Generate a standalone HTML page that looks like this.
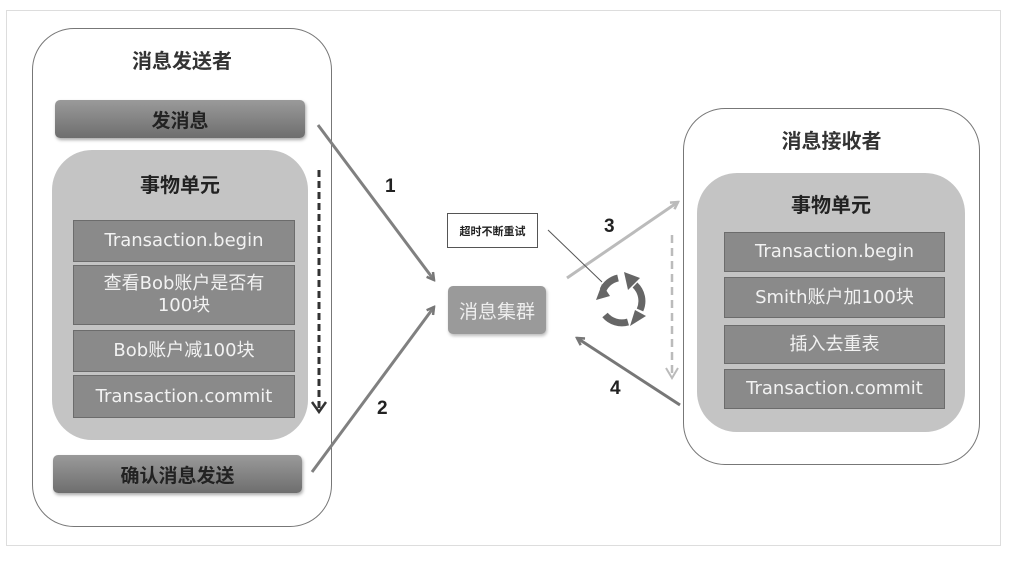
<!DOCTYPE html>
<html><head><meta charset="utf-8"><style>
body{margin:0;background:#fff;font-family:"Liberation Sans","Noto Sans CJK SC",sans-serif;}
.a{position:absolute;box-sizing:border-box;}
.t{display:flex;align-items:center;justify-content:center;text-align:center;}
.row{background:#8a8a8a;border:1.5px solid #6c6c6c;color:#f2f2f2;font-size:18px;line-height:22px;font-family:"DejaVu Sans","Noto Sans CJK SC",sans-serif;}
.btn{background:linear-gradient(#9a9a9a,#6e6e6e);border-radius:5px;color:#222;font-size:19px;font-weight:bold;box-shadow:1px 2px 3px #aaa;}
</style></head><body>
<div class="a" style="left:0;top:0;width:1020px;height:564px;overflow:hidden">
<div class="a" style="left:6px;top:10px;width:995px;height:536px;border:1px solid #ddd"></div>
<!-- left -->
<div class="a" style="left:32px;top:28px;width:300px;height:499px;border:1.5px solid #777;border-radius:42px"></div>
<div class="a t" style="left:32px;top:44px;width:300px;height:30px;font-size:20px;font-weight:bold;color:#333">消息发送者</div>
<div class="a t btn" style="left:55px;top:100px;width:250px;height:38px">发消息</div>
<div class="a" style="left:52px;top:150px;width:256px;height:290px;background:#c4c4c4;border-radius:40px"></div>
<div class="a t" style="left:52px;top:168px;width:256px;height:30px;font-size:20px;font-weight:bold;color:#222">事物单元</div>
<div class="a t row" style="left:73px;top:220px;width:222px;height:42px">Transaction.begin</div>
<div class="a t row" style="left:73px;top:265px;width:222px;height:60px">查看Bob账户是否有<br>100块</div>
<div class="a t row" style="left:73px;top:330px;width:222px;height:42px">Bob账户减100块</div>
<div class="a t row" style="left:73px;top:375px;width:222px;height:43px">Transaction.commit</div>
<div class="a t btn" style="left:53px;top:455px;width:249px;height:38px">确认消息发送</div>
<!-- right -->
<div class="a" style="left:683px;top:108px;width:297px;height:357px;border:1.5px solid #777;border-radius:42px"></div>
<div class="a t" style="left:683px;top:124px;width:297px;height:30px;font-size:20px;font-weight:bold;color:#333">消息接收者</div>
<div class="a" style="left:697px;top:173px;width:268px;height:259px;background:#c4c4c4;border-radius:40px"></div>
<div class="a t" style="left:697px;top:188px;width:268px;height:30px;font-size:20px;font-weight:bold;color:#222">事物单元</div>
<div class="a t row" style="left:724px;top:232px;width:221px;height:40px">Transaction.begin</div>
<div class="a t row" style="left:724px;top:277px;width:221px;height:41px">Smith账户加100块</div>
<div class="a t row" style="left:724px;top:325px;width:221px;height:39px">插入去重表</div>
<div class="a t row" style="left:724px;top:369px;width:221px;height:40px">Transaction.commit</div>
<!-- middle -->
<div class="a t" style="left:448px;top:286px;width:98px;height:48px;background:#9a9a9a;border-radius:5px;color:#eee;font-size:19px;box-shadow:1px 2px 3px #bbb">消息集群</div>
<div class="a t" style="left:447px;top:213px;width:91px;height:35px;border:1px solid #555;font-size:11px;font-weight:bold;color:#222">超时不断重试</div>
<svg class="a" style="left:0;top:0" width="1020" height="564">
<defs>
<marker id="m" markerWidth="10" markerHeight="10" refX="8" refY="5" orient="auto" markerUnits="userSpaceOnUse"><path d="M1,1 L8,5 L1,9" fill="none" stroke="#777" stroke-width="2.5"/></marker>
<marker id="ml" markerWidth="10" markerHeight="10" refX="8" refY="5" orient="auto" markerUnits="userSpaceOnUse"><path d="M1,1 L8,5 L1,9" fill="none" stroke="#bbb" stroke-width="2.5"/></marker>
</defs>
<line x1="318" y1="125" x2="434" y2="280" stroke="#808080" stroke-width="3" marker-end="url(#m)"/>
<line x1="312" y1="472" x2="434" y2="307" stroke="#808080" stroke-width="3" marker-end="url(#m)"/>
<line x1="567" y1="278" x2="678" y2="202" stroke="#bbb" stroke-width="3" marker-end="url(#ml)"/>
<line x1="680" y1="405" x2="577" y2="338" stroke="#777" stroke-width="3" marker-end="url(#m)"/>
<line x1="319" y1="170" x2="319" y2="410" stroke="#333" stroke-width="3" stroke-dasharray="7,4"/>
<path d="M312,402 L319,412 L326,402" fill="none" stroke="#333" stroke-width="2.5"/>
<line x1="672" y1="235" x2="672" y2="376" stroke="#bbb" stroke-width="2.5" stroke-dasharray="8,5"/>
<path d="M666,368 L672,378 L678,368" fill="none" stroke="#bbb" stroke-width="2"/>
<line x1="548" y1="230" x2="602" y2="282" stroke="#555" stroke-width="1"/>
<g fill="none" stroke="#666" stroke-width="7">
<path d="M603,290 A22,22 0 0 1 618,278"/>
<path d="M635,285 A22,22 0 0 1 640,310"/>
<path d="M628,322 A22,22 0 0 1 605,315"/>
</g>
<g fill="#666"><path d="M596,300 L602,284 L610,296 Z"/><path d="M624,272 L640,278 L628,290 Z"/><path d="M635,310 L646,316 L630,326 Z"/></g>
<g font-family="Liberation Sans" font-weight="bold" font-size="19" fill="#222">
<text x="385" y="192">1</text><text x="377" y="414">2</text><text x="604" y="232">3</text><text x="610" y="394">4</text>
</g>
</svg>
</div>
</body></html>
